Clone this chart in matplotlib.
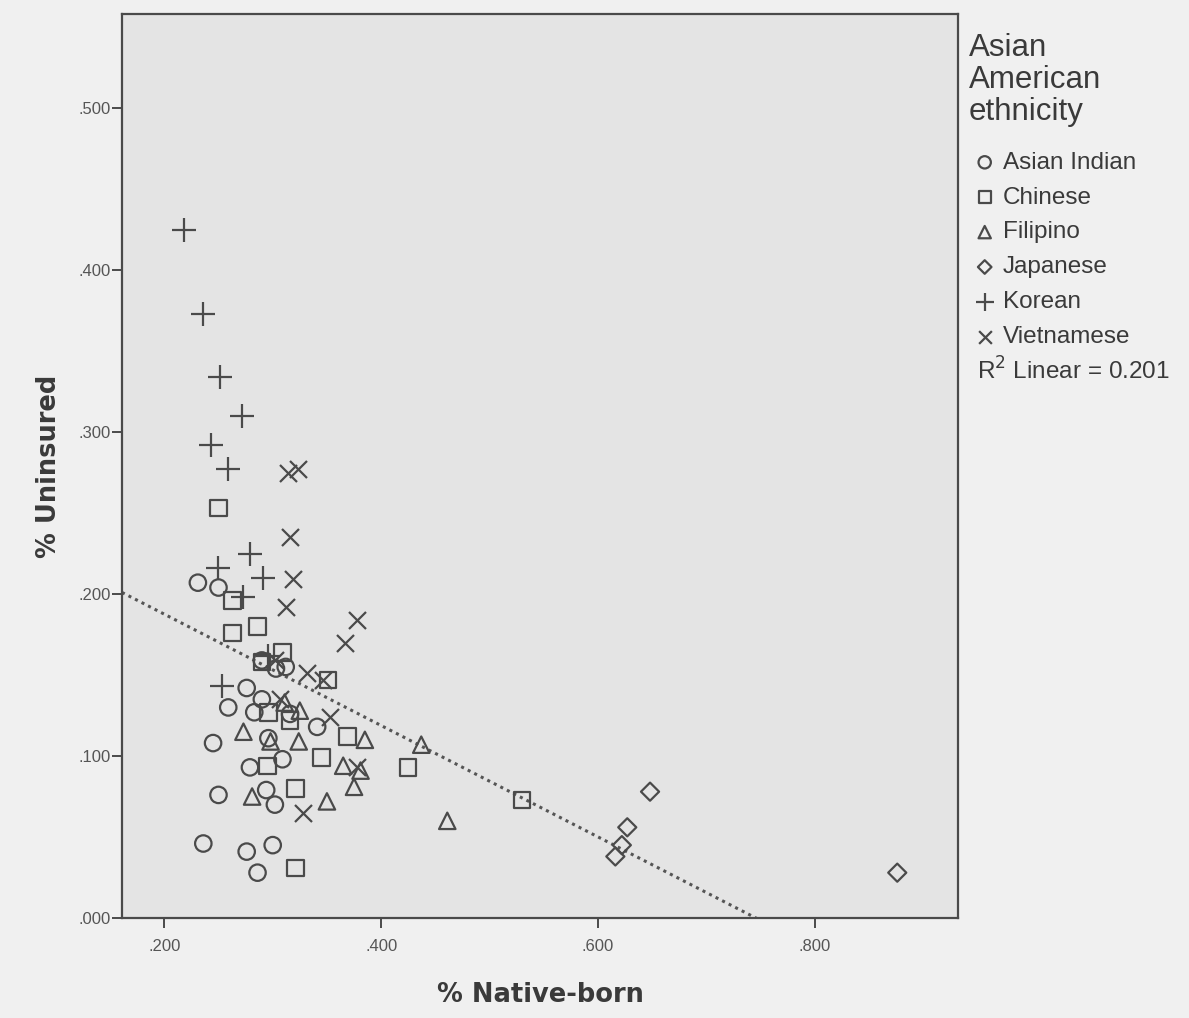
import numpy as np
import matplotlib
matplotlib.use("Agg")
import matplotlib.pyplot as plt
from matplotlib.ticker import FuncFormatter

# values (% native-born, % uninsured)
groups = ["Asian Indian", "Chinese", "Filipino", "Japanese", "Korean", "Vietnamese"]
markers = ["o", "s", "^", "D", "+", "x"]

indian_x = [.231, .250, .259, .245, .250, .236, .276, .300, .286, .302, .341, .279, .296, .276,
            .290, .303, .316, .294, .309, .283, .312, .290]
indian_y = [.207, .204, .130, .108, .076, .046, .041, .045, .028, .070, .118, .093, .111, .142,
            .159, .154, .126, .079, .098, .127, .155, .135]

chinese_x = [.250, .263, .263, .286, .309, .351, .369, .345, .321, .321, .425, .295, .530, .296,
             .316, .290]
chinese_y = [.253, .196, .176, .180, .164, .147, .112, .099, .080, .031, .093, .094, .073, .127,
             .122, .158]

filipino_x = [.273, .281, .324, .350, .375, .385, .365, .437, .461, .311, .298, .381, .325]
filipino_y = [.115, .075, .109, .072, .081, .110, .094, .107, .060, .133, .109, .091, .128]

japanese_x = [.648, .627, .622, .616, .876]
japanese_y = [.078, .056, .045, .038, .028]

korean_x = [.218, .236, .251, .272, .243, .259, .279, .250, .291, .273, .253, .296]
korean_y = [.425, .373, .334, .310, .292, .277, .225, .216, .210, .198, .143, .162]

viet_x = [.314, .323, .316, .319, .312, .378, .367, .332, .346, .328, .353, .378, .302, .307]
viet_y = [.275, .277, .235, .209, .192, .184, .170, .151, .147, .065, .124, .093, .159, .135]

r2_text = "0.201"

xs = [indian_x, chinese_x, filipino_x, japanese_x, korean_x, viet_x]
ys = [indian_y, chinese_y, filipino_y, japanese_y, korean_y, viet_y]

ink = "#4a4a4a"
txt = "#3a3a3a"
sans = "Liberation Sans"

fig = plt.figure(figsize=(11.89, 10.18), dpi=100, facecolor="#f0f0f0")
ax = fig.add_axes([0.1026, 0.0982, 0.7031, 0.888])
ax.set_facecolor("#e4e4e4")

sizes = {"o": 140, "s": 140, "^": 140, "D": 85, "+": 280, "x": 150}
handles = []
for name, m, gx, gy in zip(groups, markers, xs, ys):
    if m in "+x":
        h = ax.scatter(gx, gy, s=sizes[m], marker=m, c=ink, linewidths=1.6, label=name, zorder=3)
    else:
        h = ax.scatter(gx, gy, s=sizes[m], marker=m, facecolors="none", edgecolors=ink,
                       linewidths=1.6, label=name, zorder=3)
    handles.append(h)

# linear fit over all points
all_x = np.concatenate([np.array(v) for v in xs])
all_y = np.concatenate([np.array(v) for v in ys])
slope, icpt = np.polyfit(all_x, all_y, 1)
lx = np.array([0.161, 0.932])
ax.plot(lx, icpt + slope * lx, color="#555555", lw=2.2, ls=(0, (1, 1.4)), zorder=2)

ax.set_xlim(0.161, 0.932)
ax.set_ylim(0, 0.558)
ax.set_xticks([0.2, 0.4, 0.6, 0.8])
ax.set_yticks([0, 0.1, 0.2, 0.3, 0.4, 0.5])
fmt = FuncFormatter(lambda v, p: f"{v:.3f}".lstrip("0"))
ax.xaxis.set_major_formatter(fmt)
ax.yaxis.set_major_formatter(fmt)
ax.tick_params(length=7, width=1.4, color=ink, labelcolor="#555555", labelsize=12)
ax.tick_params(axis="y", pad=1)
ax.tick_params(axis="x", pad=8)
for lab in ax.get_xticklabels() + ax.get_yticklabels():
    lab.set_family(sans)
for s in ax.spines.values():
    s.set_color(ink)
    s.set_linewidth(1.6)

ax.set_xlabel("% Native-born", fontsize=18.5, fontweight="bold", color=txt, labelpad=20)
ax.set_ylabel("% Uninsured", fontsize=18.5, fontweight="bold", color=txt, labelpad=12)

fig.text(0.815, 0.968, "Asian\nAmerican\nethnicity", fontsize=22.5, color=txt, family=sans,
         va="top", ha="left", linespacing=1.1)
leg = fig.legend(handles=handles, loc="upper left", bbox_to_anchor=(0.820, 0.851), frameon=False,
                 prop={"family": sans, "size": 17.5}, handletextpad=0.35, labelspacing=0.53,
                 markerscale=0.75, handlelength=0.8, borderaxespad=0, borderpad=0)
for t in leg.get_texts():
    t.set_color(txt)
fig.text(0.822, 0.636, "R$^2$ Linear = " + r2_text, fontsize=17.5, color=txt, family=sans,
         va="center", ha="left")

fig.savefig("out.png", dpi=100, facecolor=fig.get_facecolor())
